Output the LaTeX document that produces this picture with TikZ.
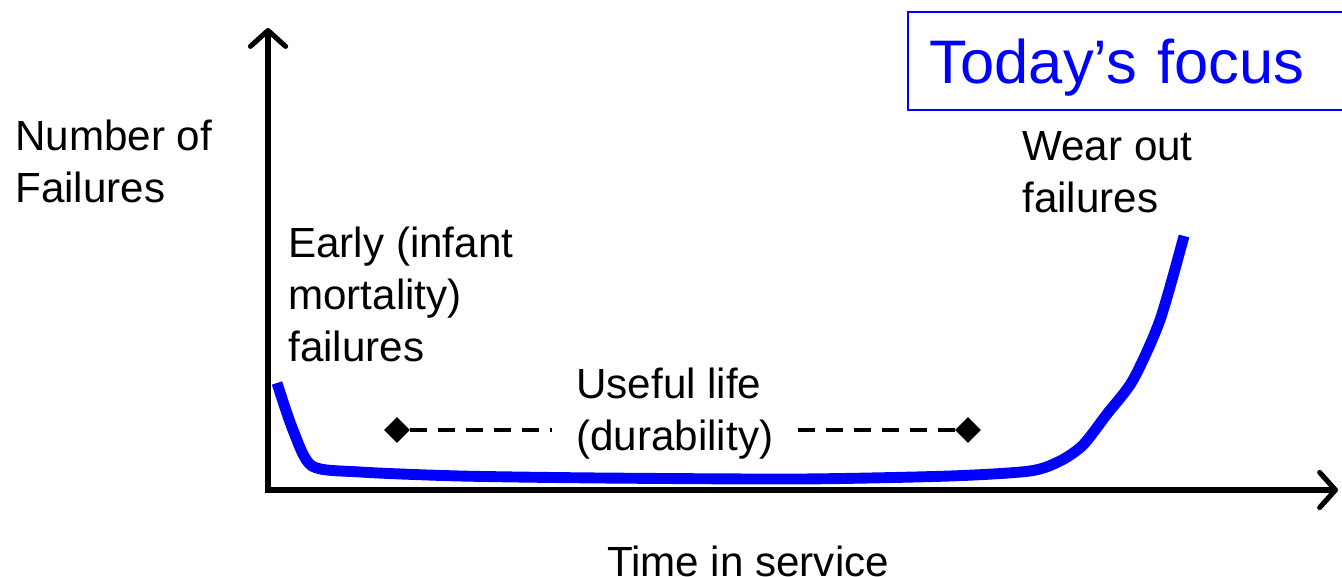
\documentclass[tikz,border=0pt]{standalone}
\usepackage{fontspec}
\setmainfont{Liberation Sans}
\usepackage{tikz}
\usetikzlibrary{arrows.meta}
\usetikzlibrary{shapes.geometric}

\tikzset{
    axis/.style={line width=2.9pt, {Straight Barb[length=9pt,width=20pt,round]}-{Straight Barb[length=9pt,width=20pt,round]}},
    curve/.style={blue, line width=6.2pt},
    label/.style={font=\fontsize{24}{29.6}\selectfont, align=left, inner sep=0pt},
    tip/.style={diamond, fill=black, minimum size=0.52cm, inner sep=0pt},
    life/.style={line width=2.2pt, dash pattern=on 0.34cm off 0.22cm}
}

\begin{document}
\begin{tikzpicture}[x=0.02cm, y=-0.02cm]
\useasboundingbox (0,0) rectangle (1342,577);
% axes
\coordinate (ytop) at (268,28);
\coordinate (xend) at (1338,490);
\draw[axis] (ytop) |- (xend);
% courbe en baignoire
\draw[curve] plot[smooth, tension=0.45] coordinates {(277,383) (293,430) (312,466) (360,472) (460,476) (600,478) (800,479) (950,476) (1030,471) (1060,461) (1083,445) (1107,414) (1133,380) (1160,320) (1184,236)};
% textes
\node[label, anchor=west] (num) at (15,161) {Number of\\Failures};
\node[label, anchor=west] (early) at (288,294) {Early (infant\\mortality)\\failures};
\node[label, anchor=west] (wear) at (1022,172) {Wear out\\failures};
\node[label] (time) at (748,561) {Time in service};
\node[label, anchor=west, inner xsep=0.48cm] (useful) at (552,414) {Useful life\\(durability)};
\node[draw=blue, line width=0.9pt, anchor=west, text=blue, font=\fontsize{35}{42}\selectfont,
      inner xsep=0.44cm, text width=7.9cm, text depth=0pt, minimum height=1.96cm] (focus) at (907,61) {Today's focus};
% duree de vie utile
\node[tip] (dl) at (397,430) {};
\node[tip] (dr) at (968,430) {};
\draw[life] (dl) -- (useful.west |- dl);
\draw[life] (useful.east |- dr) -- (dr);
\end{tikzpicture}
\end{document}
